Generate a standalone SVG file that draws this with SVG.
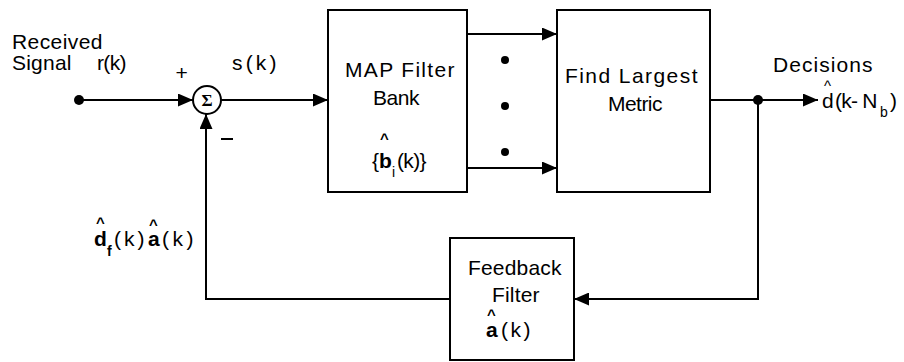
<svg xmlns="http://www.w3.org/2000/svg" width="904" height="362" viewBox="0 0 904 362">
<style>
.t{font-family:"Liberation Sans",Arial,Helvetica,sans-serif;font-size:21px;fill:#000;letter-spacing:0.5px}
.b{font-weight:bold}
.s{font-size:14px}
.h{font-family:"Liberation Sans",Arial,sans-serif;font-size:15px;font-weight:bold;fill:#000}
.ln{stroke:#000;stroke-width:2;fill:none}
.box{fill:#fff;stroke:#000;stroke-width:2}
</style>
<defs>
<marker id="ah" markerWidth="15" markerHeight="13" refX="15" refY="6.5" orient="auto" markerUnits="userSpaceOnUse">
<path d="M0,0 L15,6.5 L0,13 z" fill="#000"/>
</marker>
</defs>
<rect width="904" height="362" fill="#fff"/>

<g id="connectors">
<line class="ln" x1="79" y1="100" x2="193" y2="100" marker-end="url(#ah)"/>
<line class="ln" x1="221" y1="100" x2="328" y2="100" marker-end="url(#ah)"/>
<path class="ln" d="M450,299 H206 V114" marker-end="url(#ah)"/>
<line class="ln" x1="467" y1="34" x2="557" y2="34" marker-end="url(#ah)"/>
<line class="ln" x1="467" y1="168" x2="557" y2="168" marker-end="url(#ah)"/>
<line class="ln" x1="710" y1="100" x2="818" y2="100" marker-end="url(#ah)"/>
<path class="ln" d="M758,100 V299 H574" marker-end="url(#ah)"/>
<circle cx="79" cy="100" r="5" fill="#000"/>
<circle cx="758" cy="100" r="5" fill="#000"/>
</g>

<g id="input-label">
<text class="t" x="12" y="49" textLength="91">Received</text>
<text class="t" x="12" y="70" textLength="60">Signal</text>
<text class="t" x="97" y="70" textLength="30">r(k)</text>
</g>

<g id="summer">
<circle cx="207" cy="100" r="14" fill="#fff" stroke="#000" stroke-width="2"/>
<text x="207" y="106" text-anchor="middle" style="font-family:'Liberation Serif','Times New Roman',serif;font-size:17px;font-weight:bold">Σ</text>
<text class="t" x="182" y="80" text-anchor="middle">+</text>
<line x1="221" y1="139" x2="233" y2="139" stroke="#000" stroke-width="2"/>
<text class="t" x="232" y="70" textLength="45">s(k)</text>
</g>

<g id="map-filter-bank">
<rect class="box" x="328" y="10" width="139" height="182"/>
<text class="t" x="345" y="77" textLength="110">MAP Filter</text>
<text class="t" x="373" y="105" textLength="47">Bank</text>
<text class="t" x="372" y="168">{</text>
<text class="t b" x="379" y="168">b<tspan class="h" x="380" y="144">^</tspan></text>
<text class="t s" x="392" y="177">i</text>
<text class="t" x="397" y="168" textLength="30">(k)}</text>
</g>

<g id="dots">
<circle cx="505" cy="60" r="4" fill="#000"/>
<circle cx="505" cy="106" r="4" fill="#000"/>
<circle cx="505" cy="152" r="4" fill="#000"/>
</g>

<g id="find-largest-metric">
<rect class="box" x="557" y="10" width="153" height="182"/>
<text class="t" x="565" y="83" textLength="133">Find Largest</text>
<text class="t" x="608" y="111" textLength="55">Metric</text>
</g>

<g id="output-label">
<text class="t" x="773" y="72" textLength="100">Decisions</text>
<text class="t" x="822" y="108">d<tspan class="h" x="824" y="91" style="font-weight:normal">^</tspan></text>
<text class="t" x="835" y="108" textLength="43">(k- N</text>
<text class="t s" x="880" y="117">b</text>
<text class="t" x="890" y="108">)</text>
</g>

<g id="feedback-filter">
<rect class="box" x="450" y="238" width="124" height="122"/>
<text class="t" x="468" y="275" textLength="94">Feedback</text>
<text class="t" x="492" y="302" textLength="48">Filter</text>
<text class="t b" x="486" y="337">a<tspan class="h" x="487" y="320">^</tspan></text>
<text class="t" x="501" y="337" textLength="30">(k)</text>
</g>

<g id="feedback-label">
<text class="t b" x="94" y="246">d<tspan class="h" x="96" y="228">^</tspan></text>
<text class="t b s" x="107" y="256">f</text>
<text class="t" x="114" y="246" textLength="31">(k)</text>
<text class="t b" x="148" y="246">a<tspan class="h" x="149" y="230">^</tspan></text>
<text class="t" x="162" y="246" textLength="32">(k)</text>
</g>
</svg>
